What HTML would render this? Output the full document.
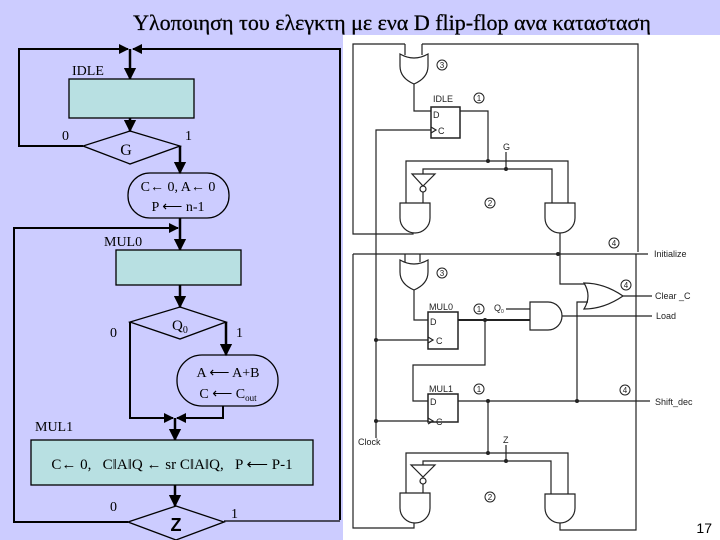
<!DOCTYPE html>
<html><head><meta charset="utf-8"><style>
html,body{margin:0;padding:0;}
body{width:720px;height:540px;background:#ccccff;overflow:hidden;position:relative;}
svg{position:absolute;left:0;top:0;}
</style></head><body>
<svg width="720" height="540" viewBox="0 0 720 540" xmlns="http://www.w3.org/2000/svg">
<defs>
<marker id="ar" viewBox="0 0 10 10" refX="9" refY="5" markerWidth="5" markerHeight="5" orient="auto"><path d="M0,0 L10,5 L0,10 z" fill="#000"/></marker>
</defs>
<text x="392" y="30" text-anchor="middle" font-family="Liberation Serif, serif" font-size="22" fill="#000" stroke="#000" stroke-width="0.3">Υλοποιηση του ελεγκτη με ενα D flip-flop ανα κατασταση</text>

<!-- LEFT ASM chart -->
<g stroke="#000" fill="none" stroke-width="1.3">
<polyline points="83,146 19,146 19,49 128,49" stroke-width="2" marker-end="url(#ar)"/>
<polyline points="340,520 340,49 133,49" stroke-width="2" marker-end="url(#ar)"/>
<line x1="130" y1="49" x2="130" y2="79" stroke-width="2.5" marker-end="url(#ar)"/>
<rect x="69" y="79" width="125" height="39" fill="#b8e0e2"/>
<line x1="130" y1="118" x2="130" y2="131" stroke-width="2.5" marker-end="url(#ar)"/>
<polygon points="130,131 180,146 130,164 83,146"/>
<line x1="180" y1="146" x2="180" y2="173" stroke-width="2.5" marker-end="url(#ar)"/>
<rect x="128" y="173" width="101" height="45" rx="22" fill="none"/>
<line x1="180" y1="218" x2="180" y2="250" stroke-width="2.5" marker-end="url(#ar)"/>
<polyline points="128,522 14,522 14,228 178,228" stroke-width="2" marker-end="url(#ar)"/>
<rect x="116" y="250" width="125" height="35" fill="#b8e0e2"/>
<line x1="180" y1="285" x2="180" y2="307" stroke-width="2.5" marker-end="url(#ar)"/>
<polygon points="180,307 226,322 180,339 130,322"/>
<line x1="226" y1="322" x2="226" y2="355" stroke-width="2.5" marker-end="url(#ar)"/>
<rect x="177" y="355" width="101" height="51" rx="25"/>
<polyline points="223,406 223,418 177,418" stroke-width="2" marker-end="url(#ar)"/>
<polyline points="130,322 130,418 173,418" stroke-width="2" marker-end="url(#ar)"/>
<line x1="175" y1="418" x2="175" y2="440" stroke-width="2.5" marker-end="url(#ar)"/>
<rect x="31" y="440" width="282" height="45" fill="#b8e0e2"/>
<line x1="175" y1="485" x2="175" y2="506" stroke-width="2.5" marker-end="url(#ar)"/>
<polygon points="176,506 224,522 176,540 128,522"/>
<line x1="224" y1="521" x2="340" y2="521"/>
</g>
<g font-family="Liberation Serif, serif" font-size="14" fill="#000">
<text x="72" y="75">IDLE</text>
<text x="62" y="140">0</text><text x="185" y="140">1</text>
<text x="126" y="155" text-anchor="middle" font-size="16">G</text>
<text x="178" y="191" text-anchor="middle">C← 0, A← 0</text>
<text x="178" y="211" text-anchor="middle">P ⟵ n-1</text>
<text x="104" y="246">MUL0</text>
<text x="110" y="337">0</text><text x="236" y="337">1</text>
<text x="172" y="330" font-size="15">Q<tspan font-size="10" dy="3">0</tspan></text>
<text x="228" y="377" text-anchor="middle">A ⟵ A+B</text>
<text x="228" y="398" text-anchor="middle">C ⟵ C<tspan font-size="9" dy="3">out</tspan></text>
<text x="35" y="431">MUL1</text>
<text x="172" y="469" text-anchor="middle" font-size="15" xml:space="preserve">C← 0,   C‖A‖Q ← sr C‖A‖Q,   P ⟵ P-1</text>
<text x="110" y="511">0</text><text x="231" y="518">1</text>
<text x="176" y="531" text-anchor="middle" font-family="Liberation Sans, sans-serif" font-size="18" font-weight="bold">Z</text>
</g>

<!-- RIGHT circuit -->
<rect x="343" y="35" width="377" height="505" fill="#fff"/>
<g stroke="#222" fill="none" stroke-width="1.2">
<polyline points="405,44 405,55"/><polyline points="422,44 422,55"/>
<polyline points="405,44 353,44 353,234 413,234 413,232"/>
<polyline points="422,44 638,44 638,252"/>
<path d="M400,54 Q414,62 428,54 L428,66 Q428,78 414,84 Q400,78 400,66 Z" fill="#fff"/>
<polyline points="414,84 414,111 431,111"/>
<rect x="431" y="107" width="29" height="31" fill="#fff" stroke-width="1.5"/>
<polyline points="431,127 436,130 431,133"/>
<polyline points="460,111 488,111 488,161"/>
<polyline points="406,203 406,161 568,161 568,203"/>
<polyline points="423,176 423,169 552,169 552,203"/>
<line x1="506" y1="152" x2="506" y2="169"/>
<polygon points="412,174 435,174 423,186" fill="#fff"/>
<circle cx="423" cy="189" r="3" fill="#fff"/>
<line x1="423" y1="192" x2="423" y2="203"/>
<path d="M400,203 H430 V218 A15,15 0 0 1 400,218 Z" fill="#fff"/>
<path d="M545,203 H575 V218 A15,15 0 0 1 545,218 Z" fill="#fff"/>
<polyline points="560,233 560,284 590,284"/>
<line x1="353" y1="254" x2="648" y2="254"/>
<polyline points="431,130 376,130 376,438"/>
<polyline points="405,254 405,262"/><polyline points="420,254 420,262"/>
<polyline points="353,254 353,528 414,528 414,522"/>
<polyline points="636,254 636,530 560,530 560,522"/>
<path d="M400,260 Q414,268 428,260 L428,272 Q428,284 414,290 Q400,284 400,272 Z" fill="#fff"/>
<polyline points="414,290 414,320 428,320"/>
<rect x="428" y="312" width="30" height="37" fill="#fff" stroke-width="1.5"/>
<polyline points="428,337 433,340 428,343"/>
<line x1="376" y1="340" x2="428" y2="340"/>
<line x1="458" y1="320" x2="530" y2="320" stroke-width="2"/>
<line x1="506" y1="309" x2="530" y2="309"/>
<path d="M530,302 H548 A14,14 0 0 1 548,330 H530 Z" fill="#fff"/>
<line x1="562" y1="316" x2="652" y2="316"/>
<path d="M584,283 Q604,283 623,296 Q604,309 584,309 Q592,296 584,283 Z" fill="#fff"/>
<line x1="623" y1="296" x2="652" y2="296"/>
<polyline points="577,401 577,302 588,302"/>
<polyline points="485,320 485,365 413,365 413,401 428,401"/>
<rect x="428" y="394" width="30" height="28" fill="#fff" stroke-width="1.5"/>
<polyline points="428,418 433,421 428,424"/>
<line x1="376" y1="421" x2="428" y2="421"/>
<line x1="458" y1="401" x2="650" y2="401"/>
<line x1="488" y1="401" x2="488" y2="453"/>
<polyline points="406,493 406,453 568,453 568,494"/>
<polyline points="423,466 423,461 551,461 551,494"/>
<line x1="506" y1="445" x2="506" y2="461"/>
<polygon points="411,465 435,465 423,477" fill="#fff"/>
<circle cx="423" cy="481" r="3" fill="#fff"/>
<line x1="423" y1="484" x2="423" y2="493"/>
<path d="M400,493 H430 V508 A15,15 0 0 1 400,508 Z" fill="#fff"/>
<path d="M545,494 H575 V508 A15,15 0 0 1 545,508 Z" fill="#fff"/>
</g>
<g fill="#222">
<circle cx="488" cy="161" r="2"/><circle cx="506" cy="169" r="2"/>
<circle cx="558" cy="254" r="2"/><circle cx="485" cy="320" r="2"/>
<circle cx="376" cy="340" r="2"/><circle cx="376" cy="421" r="2"/>
<circle cx="488" cy="401" r="2"/><circle cx="577" cy="401" r="2"/>
<circle cx="488" cy="453" r="2"/><circle cx="506" cy="461" r="2"/>
</g>
<g fill="none" stroke="#222" stroke-width="1">
<circle cx="442" cy="65" r="5"/><circle cx="479" cy="98" r="5"/>
<circle cx="490" cy="203" r="5"/><circle cx="614" cy="243" r="5"/>
<circle cx="442" cy="273" r="5"/><circle cx="626" cy="285" r="5"/>
<circle cx="479" cy="309" r="5"/><circle cx="479" cy="389" r="5"/>
<circle cx="625" cy="390" r="5"/><circle cx="490" cy="497" r="5"/>
</g>
<g font-family="Liberation Sans, sans-serif" font-size="8" fill="#222" text-anchor="middle">
<text x="442" y="68">3</text><text x="479" y="101">1</text><text x="490" y="206">2</text>
<text x="614" y="246">4</text><text x="442" y="276">3</text><text x="626" y="288">4</text>
<text x="479" y="312">1</text><text x="479" y="392">1</text><text x="625" y="393">4</text>
<text x="490" y="500">2</text>
</g>
<g font-family="Liberation Sans, sans-serif" font-size="9" fill="#222">
<text x="433" y="102">IDLE</text><text x="433" y="118">D</text><text x="438" y="134">C</text>
<text x="503" y="150">G</text>
<text x="654" y="257">Initialize</text>
<text x="655" y="299">Clear _C</text>
<text x="656" y="319">Load</text>
<text x="429" y="310">MUL0</text><text x="430" y="325">D</text><text x="436" y="344">C</text>
<text x="494" y="311">Q<tspan font-size="5" dy="2">0</tspan></text>
<text x="429" y="392">MUL1</text><text x="430" y="405">D</text><text x="436" y="425">C</text>
<text x="655" y="405">Shift_dec</text>
<text x="358" y="445">Clock</text>
<text x="503" y="443">Z</text>
</g>
<text x="712" y="533" text-anchor="end" font-family="Liberation Sans, sans-serif" font-size="14" fill="#000">17</text>
</svg>
</body></html>
